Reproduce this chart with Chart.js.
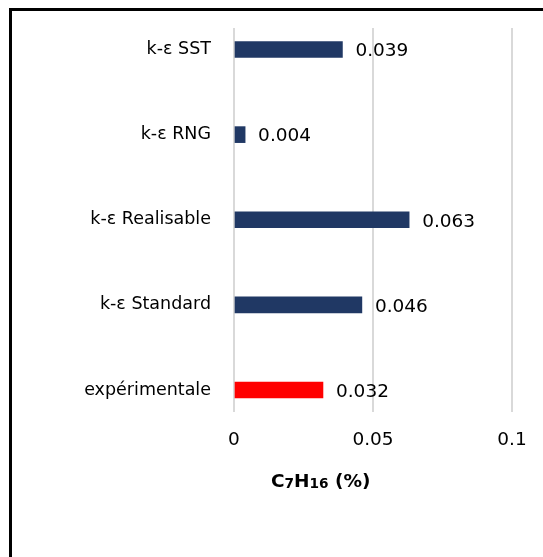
<!DOCTYPE html>
<html>
<head>
<meta charset="utf-8">
<script src="https://cdn.jsdelivr.net/npm/chart.js@4/dist/chart.umd.min.js"></script>
<style>
  html, body { margin: 0; padding: 0; background: #fff; overflow: hidden; }
  #wrap { position: relative; width: 543px; height: 557px; }
  #frame { position: absolute; left: 9px; top: 8px; right: -10px; bottom: -10px;
           border-left: 3px solid #000; border-top: 3px solid #000; }
  #chart { position: absolute; left: 0; top: 0; }
  #xtitle { position: absolute; left: 271px; top: 470px; font: bold 18.5px "DejaVu Sans", sans-serif;
            color: #000; white-space: nowrap; }
  #xtitle sub { font-size: 0.74em; vertical-align: -0.06em; }
</style>
</head>
<body>
<div id="wrap">
  <div id="frame"></div>
  <canvas id="chart" width="543" height="557"></canvas>
  <div id="xtitle">C<sub>7</sub>H<sub>16</sub> (%)</div>
</div>
<script>
// modèles, du haut vers le bas
const categories = ['k-ε SST', 'k-ε RNG', 'k-ε Realisable', 'k-ε Standard', 'expérimentale'];
const values = [0.039, 0.004, 0.063, 0.046, 0.032];
const barColors = ['#203864', '#203864', '#203864', '#203864', '#ff0000'];
const xTicks = [0, 0.05, 0.1];

const FONT = { family: '"DejaVu Sans", sans-serif', size: 17.5 };
const NUM_FONT = { family: '"DejaVu Sans", sans-serif', size: 18.5 };

// étiquettes de valeur à droite des barres
const valueLabels = {
    id: 'valueLabels',
    afterDatasetsDraw(chart) {
        const ctx = chart.ctx;
        const meta = chart.getDatasetMeta(0);
        ctx.save();
        ctx.font = NUM_FONT.size + 'px ' + NUM_FONT.family;
        ctx.fillStyle = '#000';
        ctx.textAlign = 'left';
        ctx.textBaseline = 'middle';
        meta.data.forEach((bar, i) => {
            ctx.fillText(values[i].toFixed(3), bar.x + 13, bar.y + 2);
        });
        ctx.restore();
    }
};

const ctx = document.getElementById('chart').getContext('2d');
new Chart(ctx, {
    type: 'bar',
    data: {
        datasets: [{
            data: values.map((v, i) => ({ x: v, y: i })),
            backgroundColor: barColors,
            barThickness: 16
        }]
    },
    options: {
        indexAxis: 'y',
        responsive: false,
        animation: false,
        layout: { padding: { top: 28, right: 31, left: 0, bottom: 0 } },
        plugins: { legend: { display: false }, tooltip: { enabled: false } },
        scales: {
            x: {
                type: 'linear',
                min: xTicks[0],
                max: xTicks[xTicks.length - 1],
                afterBuildTicks(scale) { scale.ticks = xTicks.map(v => ({ value: v })); },
                afterFit(scale) {
                    scale.height = 145;
                    scale.paddingLeft = 0;
                    scale.paddingRight = 0;
                },
                grid: { color: '#d9d9d9', lineWidth: 2, drawTicks: false },
                border: { display: false },
                ticks: { color: '#000', font: NUM_FONT, padding: 17, maxRotation: 0, callback: (v) => String(v) }
            },
            y: {
                type: 'linear',
                reverse: true,
                offset: false,
                min: -0.2526,
                max: categories.length - 1 + 0.2585,
                afterBuildTicks(scale) { scale.ticks = categories.map((c, i) => ({ value: i })); },
                afterFit(scale) {
                    scale.width = 234;
                    scale.paddingTop = 0;
                    scale.paddingBottom = 0;
                },
                grid: { display: false, drawTicks: false },
                border: { display: false },
                ticks: {
                    color: '#000', font: FONT, padding: 23, autoSkip: false,
                    callback: (v) => categories[v] ?? ''
                }
            }
        }
    },
    plugins: [valueLabels]
});
</script>
</body>
</html>
